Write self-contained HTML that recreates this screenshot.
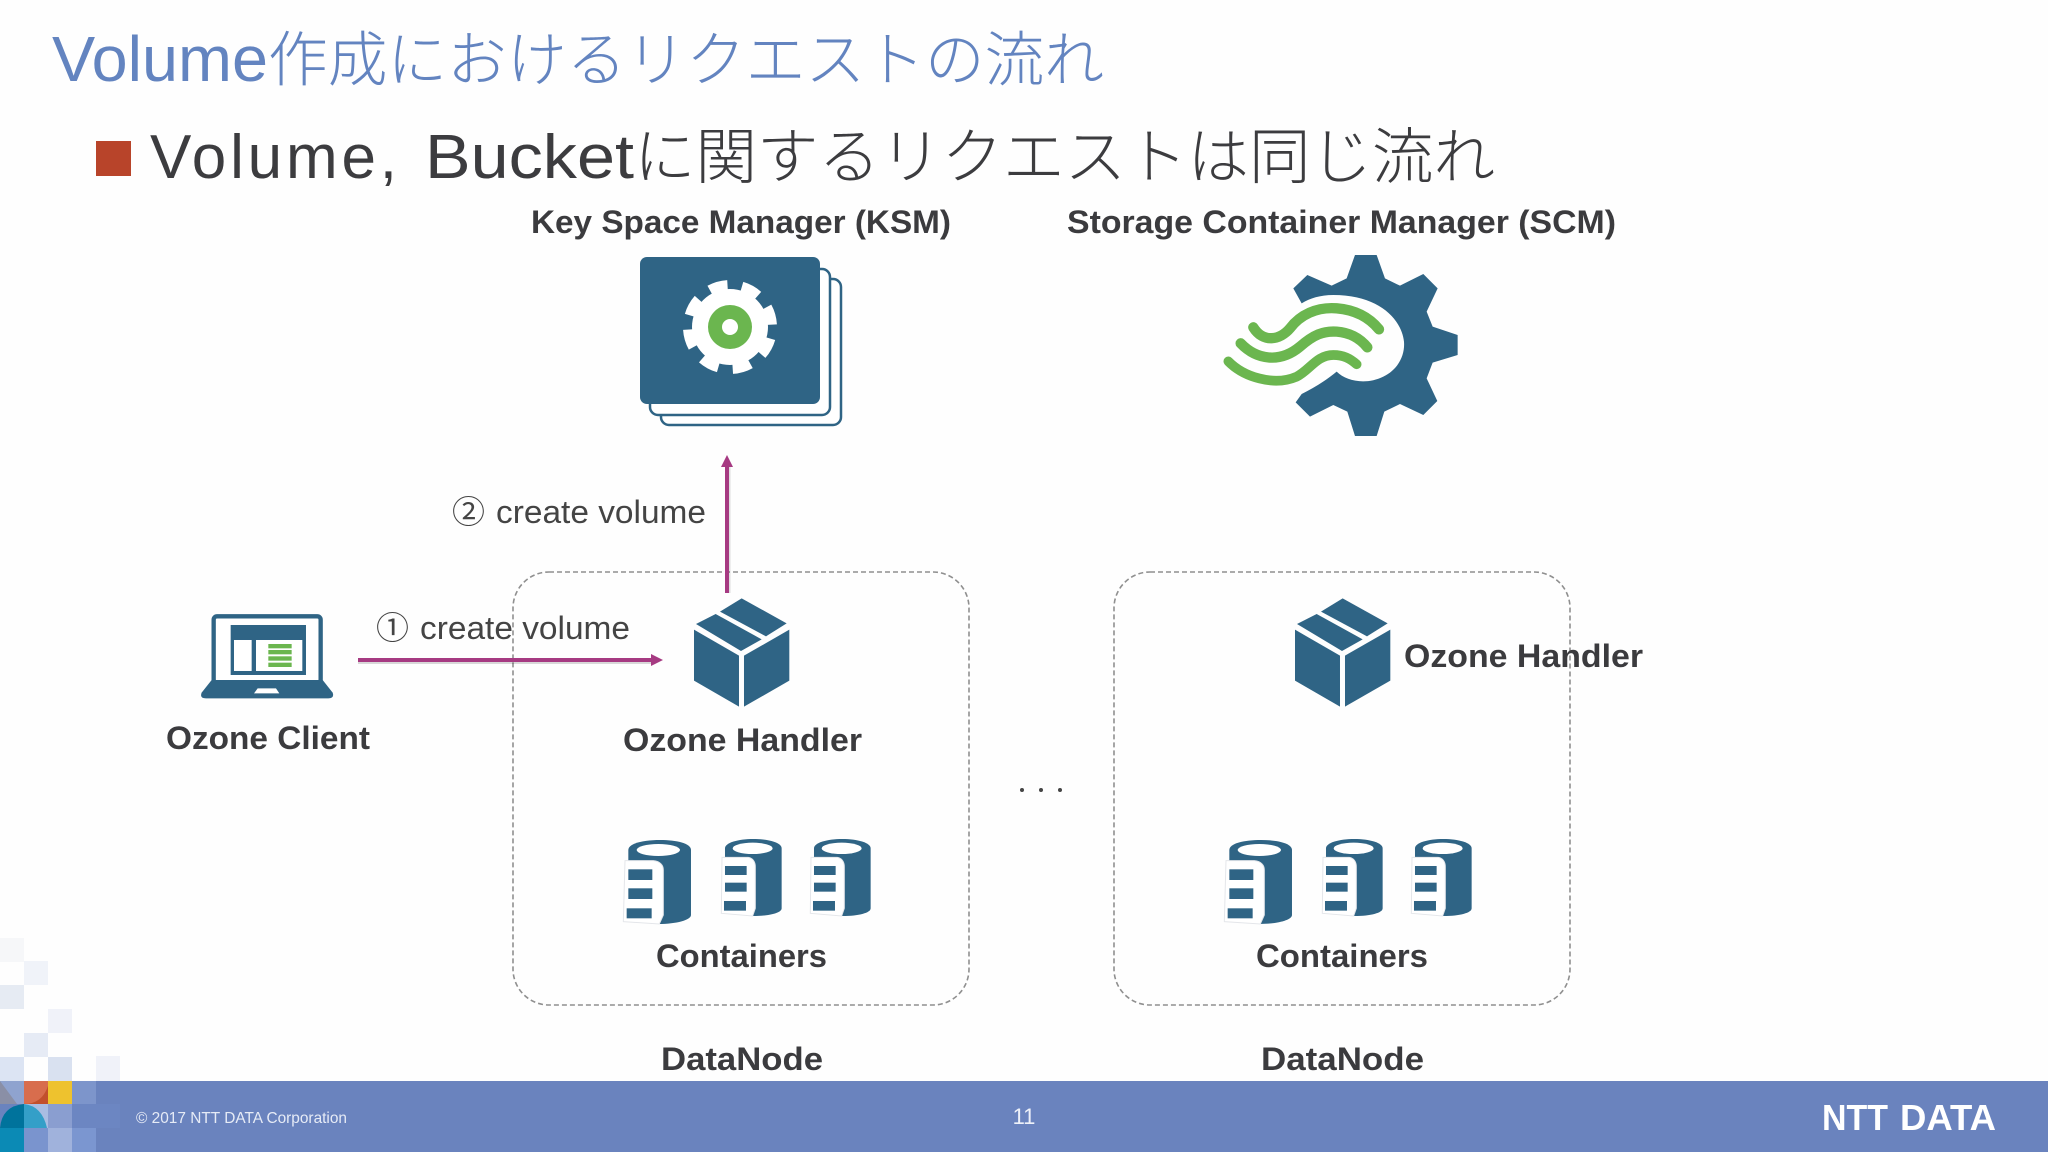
<!DOCTYPE html>
<html lang="ja"><head><meta charset="utf-8"><title>Volume作成におけるリクエストの流れ</title>
<style>
html,body{margin:0;padding:0;background:#fff}
svg{display:block}
text{font-family:"Liberation Sans","Noto Sans CJK JP",sans-serif}
.b{font-weight:700;font-size:32px;fill:#3b3b3e}
.l{font-size:32px;fill:#444}
.t{font-weight:300}
</style></head><body>
<svg xmlns="http://www.w3.org/2000/svg" width="2048" height="1152" viewBox="0 0 2048 1152">
<defs>
<g id="cube" fill="#2f6485" transform="translate(670,590) scale(.3333)">
<polygon points="215,25 350,100 288,139 150,65"/>
<polygon points="137,72 275,148 213,183 78,102"/>
<polygon points="72,119 207,197 207,350 72,272"/>
<polygon points="222,197 358,119 358,272 222,350"/>
</g>
<g id="cyl" transform="translate(610,820) scale(.3333)">
<path fill="#2f6485" d="M55,90C55,70 100,60 150,60C200,60 243,70 243,90L243,285C243,300 200,312 145,312L55,300Z"/>
<ellipse cx="145" cy="90" rx="65" ry="18" fill="#fff"/>
<path fill="#fff" stroke="#e4e6ea" stroke-width="3" d="M45,122L130,122C150,124 160,135 160,150L160,285L148,312L40,305Z"/>
<g fill="#2f6485"><rect x="55" y="148" width="72" height="32"/><rect x="55" y="205" width="72" height="32"/><rect x="50" y="265" width="75" height="30"/></g>
</g>
<g id="cyl2" transform="translate(610,820) scale(.3333)">
<path fill="#2f6485" d="M345,85C345,68 385,57 430,57C475,57 515,68 515,85L515,265C515,278 480,288 430,288L345,280Z"/>
<ellipse cx="428" cy="85" rx="60" ry="17" fill="#fff"/>
<path fill="#fff" stroke="#e4e6ea" stroke-width="3" d="M336,112L415,112C428,114 436,125 436,140L436,265L428,288L334,280Z"/>
<g fill="#2f6485"><rect x="345" y="138" width="65" height="27"/><rect x="345" y="188" width="65" height="27"/><rect x="342" y="243" width="66" height="29"/></g>
</g>
<g id="set"><use href="#cyl"/><use href="#cyl2"/><use href="#cyl2" x="89"/></g>
</defs>
<rect width="2048" height="1152" fill="#fefefe"/>

<text class="t" x="52" y="81" font-size="64" fill="#6384c0" textLength="216" lengthAdjust="spacingAndGlyphs">Volume</text>
<text class="t" x="268" y="81" font-size="60" fill="#6384c0" textLength="836" lengthAdjust="spacingAndGlyphs">作成におけるリクエストの流れ</text>
<rect x="96" y="141" width="35" height="35" fill="#b8442a"/>
<text class="t" x="150" y="178" font-size="62" fill="#3c3c3f" textLength="247" lengthAdjust="spacing">Volume,</text>
<text class="t" x="425" y="178" font-size="62" fill="#3c3c3f" textLength="209" lengthAdjust="spacingAndGlyphs">Bucket</text>
<text class="t" x="634" y="178" font-size="61" fill="#3c3c3f" textLength="861" lengthAdjust="spacingAndGlyphs">に関するリクエストは同じ流れ</text>

<text class="b" x="531" y="233" textLength="420" lengthAdjust="spacingAndGlyphs">Key Space Manager (KSM)</text>
<text class="b" x="1067" y="233" textLength="549" lengthAdjust="spacingAndGlyphs">Storage Container Manager (SCM)</text>

<!-- KSM icon -->
<rect x="661" y="279" width="180" height="146" rx="8" fill="#fff" stroke="#2f6485" stroke-width="2.5"/>
<rect x="650" y="269" width="180" height="146" rx="8" fill="#fff" stroke="#2f6485" stroke-width="2.5"/>
<rect x="640" y="257" width="180" height="147" rx="7" fill="#2f6485"/>
<circle cx="730" cy="327" r="38" fill="#fff"/>
<circle cx="730" cy="327" r="41" fill="none" stroke="#fff" stroke-width="12" stroke-dasharray="18 14.2" transform="rotate(16 730 327)"/>
<circle cx="730" cy="327" r="22" fill="#6bb64f"/>
<circle cx="730" cy="327" r="8" fill="#fff"/>

<!-- SCM icon -->
<g transform="translate(1200,240) scale(.3333)">
<path fill="#2f6485" d="M280,145L322,105L395,137L440,115L465,45L530,45L555,115L600,137L670,102L713,145L680,215L698,260L773,285L773,345L698,368L680,415L712,483L670,525L600,492L553,515L530,588L465,588L442,515L400,495L330,530L287,487L305,462C340,445 380,420 410,395C440,425 500,435 550,410C600,385 615,340 612,305C605,240 540,165 400,165C360,165 330,175 305,190Z"/>
<g fill="none" stroke="#6bb64f" stroke-linecap="round">
<path stroke-width="31" d="M160,262C190,310 240,300 270,265C300,225 350,200 410,205C470,210 510,235 537,268"/>
<path stroke-width="31" d="M122,310C170,360 240,370 300,320C340,285 370,272 410,275C450,278 480,295 502,322"/>
<path stroke-width="29" d="M85,364C130,410 220,440 290,410C330,390 350,345 400,345C430,345 450,355 470,373"/>
</g>
</g>

<!-- dashed boxes -->
<rect x="513" y="572" width="456" height="433" rx="36" fill="none" stroke="#8f8f8f" stroke-width="1.6" stroke-dasharray="5 3"/>
<rect x="1114" y="572" width="456" height="433" rx="36" fill="none" stroke="#8f8f8f" stroke-width="1.6" stroke-dasharray="5 3"/>

<!-- laptop -->
<g transform="translate(180,590) scale(.3333)">
<rect x="101" y="79" width="321" height="200" rx="10" fill="#fff" stroke="#2f6485" stroke-width="13"/>
<path fill="#2f6485" d="M95,270L428,270L458,308Q464,325 445,325L78,325Q58,325 65,308Z"/>
<path fill="#fff" d="M233,295L288,295L298,310L222,310Z"/>
<rect x="152" y="105" width="226" height="150" fill="#2f6485"/>
<rect x="162" y="150" width="53" height="93" fill="#fff"/>
<rect x="228" y="150" width="139" height="93" fill="#fff"/>
<g fill="#6bb64f"><rect x="265" y="162" width="70" height="13"/><rect x="265" y="180" width="70" height="13"/><rect x="265" y="199" width="70" height="13"/><rect x="265" y="218" width="70" height="13"/></g>
</g>
<text class="b" x="166" y="749" textLength="204" lengthAdjust="spacingAndGlyphs">Ozone Client</text>

<!-- arrows -->
<line x1="358" y1="662" x2="655" y2="662" stroke="#000" stroke-opacity=".15" stroke-width="4"/>
<line x1="358" y1="660" x2="655" y2="660" stroke="#a63a82" stroke-width="4"/>
<polygon points="651,654 663,660 651,666" fill="#a63a82"/>
<line x1="729" y1="593" x2="729" y2="465" stroke="#000" stroke-opacity=".12" stroke-width="3"/>
<line x1="727" y1="593" x2="727" y2="465" stroke="#a63a82" stroke-width="4"/>
<polygon points="721,467 727,455 733,467" fill="#a63a82"/>

<text x="376" y="639" font-size="32" fill="#444" textLength="33" lengthAdjust="spacingAndGlyphs">①</text>
<text class="l" x="420" y="639" textLength="210" lengthAdjust="spacingAndGlyphs">create volume</text>
<text x="452" y="523" font-size="32" fill="#444" textLength="33" lengthAdjust="spacingAndGlyphs">②</text>
<text class="l" x="496" y="523" textLength="210" lengthAdjust="spacingAndGlyphs">create volume</text>

<!-- cubes -->
<use href="#cube"/>
<use href="#cube" x="601"/>
<text class="b" x="623" y="751" textLength="239" lengthAdjust="spacingAndGlyphs">Ozone Handler</text>
<text class="b" x="1404" y="667" textLength="239" lengthAdjust="spacingAndGlyphs">Ozone Handler</text>

<!-- containers -->
<use href="#set"/>
<use href="#set" x="601"/>
<text class="b" x="656" y="967" textLength="171" lengthAdjust="spacingAndGlyphs">Containers</text>
<text class="b" x="1256" y="967" textLength="172" lengthAdjust="spacingAndGlyphs">Containers</text>
<text class="b" x="661" y="1070" textLength="162" lengthAdjust="spacingAndGlyphs">DataNode</text>
<text class="b" x="1261" y="1070" textLength="163" lengthAdjust="spacingAndGlyphs">DataNode</text>

<circle cx="1022" cy="790" r="2" fill="#444"/><circle cx="1041" cy="790" r="2" fill="#444"/><circle cx="1060" cy="790" r="2" fill="#444"/>

<!-- footer -->
<rect x="0" y="1081" width="2048" height="71" fill="#6a83be"/>
<g>
<rect x="0" y="938" width="24" height="24" fill="#f6f7f9"/>
<rect x="24" y="961" width="24" height="24" fill="#f0f3f9"/>
<rect x="0" y="985" width="24" height="24" fill="#e6ebf3"/>
<rect x="48" y="1009" width="24" height="24" fill="#f0f2f9"/>
<rect x="24" y="1033" width="24" height="24" fill="#e6ebf5"/>
<rect x="0" y="1057" width="24" height="24" fill="#dce4f3"/>
<rect x="48" y="1057" width="24" height="24" fill="#d9e1f0"/>
<rect x="96" y="1056" width="24" height="25" fill="#f0f2f9"/>
<rect x="0" y="1081" width="24" height="23" fill="#8fa3cf"/>
<polygon points="0,1081 17,1104 0,1104" fill="#8a8fa6"/>
<rect x="24" y="1081" width="24" height="23" fill="#d86d4d"/>
<path d="M24,1104Q42,1104 48,1086L48,1104Z" fill="#c2502c"/>
<rect x="48" y="1081" width="24" height="23" fill="#eec22e"/>
<rect x="72" y="1081" width="24" height="23" fill="#7d95cb"/>
<rect x="48" y="1104" width="24" height="24" fill="#8a9ed0"/>
<rect x="72" y="1104" width="48" height="24" fill="#6c86c2"/>
<rect x="24" y="1104" width="24" height="24" fill="#a9bde2"/>
<path d="M0,1128Q2,1106 24,1104L24,1128Z" fill="#00739c"/>
<path d="M24,1104Q42,1106 47,1128L24,1128Z" fill="#349fc8"/>
<rect x="0" y="1128" width="24" height="24" fill="#0b8ab5"/>
<rect x="24" y="1128" width="24" height="24" fill="#7a94ce"/>
<rect x="48" y="1128" width="24" height="24" fill="#a0b2dc"/>
<rect x="72" y="1128" width="24" height="24" fill="#7b96d0"/>
</g>
<text x="136" y="1123" font-size="16" fill="#e6ebf6" textLength="211" lengthAdjust="spacingAndGlyphs">© 2017 NTT DATA Corporation</text>
<text x="1024" y="1124" font-size="22" fill="#eef1f9" text-anchor="middle">11</text>
<text x="1822" y="1130" font-size="36" font-weight="700" fill="#fff" textLength="66" lengthAdjust="spacingAndGlyphs">NTT</text>
<text x="1900" y="1130" font-size="36" font-weight="700" fill="#fff" textLength="96" lengthAdjust="spacingAndGlyphs">DATA</text>
</svg>
</body></html>
